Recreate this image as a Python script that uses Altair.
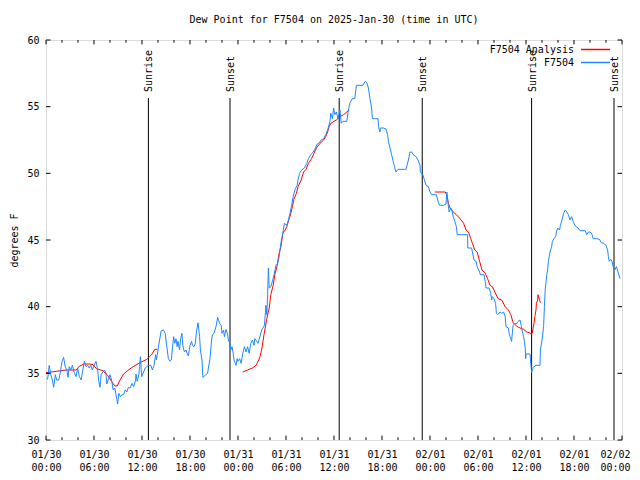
import json
import altair as alt
import pandas as pd

FONT = "DejaVu Sans Mono"

title_text = "Dew Point for F7504 on 2025-Jan-30 (time in UTC)"
day_labels = ["01/30", "01/31", "02/01", "02/02"]
x_major = [0, 6, 12, 18, 24, 30, 36, 42, 48, 54, 60, 66, 72]
x_minor = [2, 4, 8, 10, 14, 16, 20, 22, 26, 28, 32, 34, 38, 40, 44, 46, 50, 52, 56, 58, 62, 64, 68, 70]
y_ticks = [30, 35, 40, 45, 50, 55, 60]

# Observed dew point (hours since 2025-01-30 00:00 UTC, deg F)
blue_hours = [0.1, 0.2, 0.4, 0.6, 0.8, 0.96, 1.17, 1.33, 1.6, 1.8, 2.0, 2.2, 2.4, 2.6, 2.75, 2.9, 3.1, 3.3, 3.5, 3.75,
              3.96, 4.17, 4.4, 4.6, 4.8, 5.0, 5.2, 5.4, 5.6, 5.8, 6.0, 6.25, 6.46, 6.6, 6.75, 6.9, 7.1, 7.3, 7.5, 7.6,
              7.8, 8.0, 8.2, 8.4, 8.6, 8.75, 8.96, 9.1, 9.3, 9.5, 9.7, 9.9, 10.1, 10.3, 10.5, 10.75, 10.96, 11.2, 11.25, 11.4,
              11.6, 11.7, 11.8, 11.96, 12.2, 12.4, 12.6, 12.8, 13.1, 13.3, 13.5, 13.7, 13.8, 14.0, 14.2, 14.4, 14.7, 14.9, 15.1, 15.3,
              15.5, 15.67, 15.8, 15.96, 16.1, 16.25, 16.4, 16.5, 16.7, 16.8, 17.0, 17.1, 17.3, 17.5, 17.7, 17.8, 18.0, 18.2, 18.3, 18.5,
              18.67, 18.8, 19.0, 19.2, 19.3, 19.5, 19.6, 19.8, 20.0, 20.2, 20.3, 20.5, 20.7, 20.8, 21.0, 21.25, 21.46, 21.7, 21.9, 22.0,
              22.2, 22.3, 22.5, 22.67, 22.8, 23.0, 23.1, 23.25, 23.4, 23.5, 23.75, 23.9, 24.0, 24.2, 24.4, 24.6, 24.8, 25.0, 25.2, 25.4,
              25.6, 25.8, 26.0, 26.1, 26.5, 26.96, 27.3, 27.5, 27.6, 27.7, 27.8, 27.9, 28.1, 28.3, 28.5, 28.75, 28.96, 29.1, 29.4, 29.6,
              29.8, 30.1, 30.3, 30.5, 30.7, 30.9, 31.1, 31.4, 31.5, 31.7, 31.96, 32.3, 32.6, 32.8, 33.1, 33.4, 33.7, 33.9, 34.1, 34.4,
              34.7, 34.96, 35.2, 35.5, 35.6, 35.8, 35.96, 36.1, 36.3, 36.5, 36.6, 36.75, 36.9, 37.1, 37.4, 37.6, 37.8, 38.0, 38.3, 38.6,
              38.8, 39.25, 39.6, 39.9, 40.1, 40.3, 40.5, 40.7, 40.8, 41.1, 41.5, 41.6, 41.75, 41.8, 42.2, 42.5, 42.7, 42.8, 43.0, 43.2,
              43.4, 43.6, 43.75, 44.0, 44.5, 45.0, 45.3, 45.5, 45.7, 45.9, 46.25, 46.5, 46.75, 46.8, 47.1, 47.25, 47.5, 47.8, 48.0, 48.2,
              48.8, 49.0, 49.2, 49.7, 50.0, 50.1, 50.2, 50.3, 50.4, 50.6, 50.75, 50.9, 51.1, 51.3, 51.4, 51.96, 52.7, 52.72, 53.2, 53.5,
              53.75, 53.9, 54.2, 54.3, 54.75, 54.9, 55.0, 55.4, 55.6, 55.7, 55.8, 56.0, 56.2, 56.3, 56.5, 56.75, 56.96, 57.2, 57.4, 57.5,
              57.8, 57.9, 58.0, 58.2, 58.3, 58.4, 58.6, 58.8, 59.0, 59.25, 59.4, 59.5, 59.7, 59.8, 59.9, 59.96, 60.0, 60.5, 60.6, 60.7,
              60.9, 61.25, 61.75, 61.8, 62.0, 62.2, 62.3, 62.4, 62.6, 62.7, 62.8, 63.0, 63.2, 63.3, 63.5, 63.7, 63.8, 63.96, 64.2, 64.3,
              64.5, 64.7, 64.9, 65.1, 65.3, 65.5, 65.7, 65.9, 66.1, 66.3, 66.5, 66.75, 67.4, 67.6, 67.8, 68.0, 68.2, 68.4, 68.8, 69.2,
              69.4, 69.7, 70.0, 70.2, 70.3, 70.4, 70.6, 70.75, 70.9, 71.1, 71.3, 71.5, 71.75]
blue_dewpt = [34.6, 34.55, 35.6, 34.9, 34.5, 33.95, 34.9, 34.5, 34.5, 35.1, 35.9, 36.2, 35.5, 35.25, 34.7, 35.5, 35.25, 35.6, 35.1, 34.75,
              35.4, 34.75, 34.5, 35.25, 35.9, 35.5, 35.6, 35.4, 35.6, 35.25, 35.6, 35.9, 35.25, 34.4, 33.95, 34.9, 35.1, 35.25, 35.0, 34.2,
              34.55, 34.9, 34.5, 33.75, 33.9, 33.4, 32.7, 33.5, 33.25, 33.4, 33.4, 33.75, 33.6, 33.95, 33.9, 34.25, 34.0, 34.5, 34.95, 34.4,
              34.9, 35.5, 36.25, 34.75, 35.1, 35.4, 35.5, 35.6, 35.6, 35.25, 35.6, 36.4, 36.0, 36.75, 37.5, 38.2, 38.25, 38.0, 37.0, 36.1,
              35.9, 36.0, 36.9, 37.75, 37.25, 37.6, 37.0, 37.4, 36.75, 37.5, 38.0, 37.1, 36.6, 36.75, 36.4, 36.3, 37.1, 37.4, 37.1, 37.0,
              37.25, 38.1, 38.8, 37.75, 36.75, 36.0, 34.7, 34.8, 34.9, 35.0, 35.4, 36.1, 37.5, 37.9, 38.0, 38.5, 39.2, 38.75, 38.6, 38.0,
              38.25, 37.75, 38.3, 38.0, 37.5, 37.25, 36.75, 37.0, 36.5, 36.0, 35.6, 36.1, 35.9, 36.1, 35.75, 36.5, 37.0, 36.6, 37.0, 36.5,
              37.25, 37.5, 37.1, 37.6, 37.25, 38.25, 38.6, 40.1, 39.4, 40.9, 42.9, 41.4, 41.5, 41.9, 42.4, 43.1, 43.25, 43.6, 44.9, 45.5,
              46.25, 46.1, 46.5, 47.0, 47.6, 48.25, 48.75, 49.1, 49.5, 50.0, 50.25, 50.4, 50.75, 51.1, 51.4, 51.6, 51.9, 52.2, 52.25, 52.5,
              52.6, 52.9, 53.25, 53.9, 54.5, 54.1, 54.9, 54.4, 54.6, 54.1, 54.4, 54.75, 53.75, 53.9, 53.9, 53.9, 54.75, 55.3, 55.6, 55.6,
              56.6, 56.6, 56.6, 56.9, 56.8, 56.4, 55.6, 54.9, 54.1, 54.1, 54.1, 53.4, 53.1, 53.4, 53.4, 53.3, 52.9, 52.4, 51.9, 51.4,
              50.9, 50.4, 50.1, 50.3, 50.3, 50.3, 51.0, 51.6, 51.6, 51.4, 51.25, 51.0, 50.6, 50.1, 49.9, 49.6, 49.1, 49.0, 48.6, 48.4,
              48.4, 47.9, 47.6, 47.6, 47.7, 48.6, 48.1, 47.5, 47.1, 47.4, 47.25, 46.75, 46.4, 46.0, 45.4, 45.4, 45.4, 44.4, 44.4, 43.5,
              43.4, 43.0, 42.6, 42.4, 42.4, 41.9, 41.4, 41.4, 41.0, 40.5, 40.75, 40.6, 40.25, 39.5, 39.4, 39.6, 39.5, 39.6, 39.25, 38.5,
              38.4, 38.0, 37.75, 37.4, 38.1, 38.6, 38.75, 38.7, 38.9, 39.0, 38.6, 38.25, 37.75, 37.4, 36.9, 36.1, 36.45, 36.45, 35.75, 35.05,
              35.45, 35.6, 35.6, 36.75, 37.5, 38.5, 40.0, 41.25, 42.4, 42.75, 43.4, 44.1, 44.5, 44.9, 45.1, 45.25, 45.6, 45.9, 45.75, 46.1,
              46.5, 47.0, 47.25, 47.1, 46.9, 46.5, 46.75, 46.4, 46.1, 46.0, 45.9, 45.7, 45.7, 45.4, 45.6, 45.6, 45.5, 45.1, 45.1, 45.05,
              44.8, 44.75, 44.6, 44.25, 43.75, 43.4, 43.55, 43.4, 43.0, 42.75, 43.0, 42.6, 42.1]

# Analysis dew point, three separate runs
red_hours = [
    [0.0, 0.6, 1.25, 2.5, 3.75, 4.2, 4.8, 5.4, 5.9, 6.3, 7.1, 7.7, 8.2, 8.6, 8.9, 9.25, 9.7, 10.3, 10.9, 11.75,
     12.6, 13.2, 13.6, 13.9],
    [24.6, 25.2, 25.8, 26.25, 26.6, 26.75, 27.0, 27.25, 27.6, 27.9, 28.1, 28.4, 28.6, 28.9, 29.1, 29.4, 29.6, 29.9, 30.1, 30.4,
     30.6, 30.8, 31.0, 31.3, 31.5, 31.9, 32.2, 32.5, 32.8, 33.2, 33.5, 33.8, 34.25, 34.7, 34.96, 35.2, 35.4, 35.6, 36.0, 36.3,
     36.75, 37.2, 37.6, 37.9],
    [48.6, 49.9, 50.1, 50.3, 50.5, 50.9, 51.3, 51.75, 52.2, 52.5, 52.8, 53.1, 53.3, 53.6, 53.9, 54.2, 54.5, 54.9, 55.2, 55.5,
     55.8, 56.1, 56.5, 56.96, 57.4, 57.8, 58.1, 58.4, 58.8, 59.25, 59.7, 60.1, 60.4, 60.7, 60.8, 61.0, 61.1, 61.25, 61.3, 61.46,
     61.5, 61.7, 61.8],
]
red_dewpt = [
    [35.05, 35.1, 35.15, 35.25, 35.25, 35.55, 35.7, 35.7, 35.65, 35.35, 35.2, 34.85, 34.4, 34.05, 34.05, 34.5, 34.95, 35.25, 35.5, 35.8,
     36.05, 36.4, 36.8, 36.8],
    [35.1, 35.25, 35.4, 35.6, 36.0, 36.25, 36.9, 37.9, 39.1, 39.9, 40.9, 41.6, 42.4, 43.1, 43.9, 44.6, 45.5, 45.75, 46.0, 46.6,
     47.0, 47.5, 48.1, 48.5, 49.0, 49.5, 50.1, 50.3, 50.75, 51.1, 51.5, 51.9, 52.25, 52.5, 52.75, 53.1, 53.5, 53.75, 53.9, 54.0,
     54.25, 54.4, 54.6, 54.75],
    [48.6, 48.6, 48.4, 47.75, 47.4, 47.1, 46.9, 46.6, 46.25, 45.75, 45.6, 45.1, 44.75, 44.25, 44.1, 43.4, 42.75, 42.5, 42.1, 41.6,
     41.5, 41.1, 40.6, 40.5, 40.0, 39.75, 39.4, 38.8, 38.55, 38.4, 38.3, 38.1, 38.05, 37.9, 38.1, 38.75, 39.25, 39.75, 40.25, 40.5,
     40.9, 40.5, 40.3],
]

event_hours = [12.8, 23.0, 36.65, 47.03, 60.7, 71.0]
event_names = ["Sunrise", "Sunset", "Sunrise", "Sunset", "Sunrise", "Sunset"]

series_names = ["F7504 Analysis", "F7504"]
series_colors = ["#ff0000", "#1e88ff"]

blue_df = pd.DataFrame({"h": blue_hours, "v": blue_dewpt, "i": list(range(len(blue_hours)))})
red_rows = []
for s, (hs, vs) in enumerate(zip(red_hours, red_dewpt)):
    for k, (h, v) in enumerate(zip(hs, vs)):
        red_rows.append({"h": h, "v": v, "seg": s, "i": k})
red_df = pd.DataFrame(red_rows)
ev_df = pd.DataFrame({"h": event_hours, "name": event_names})
major_df = pd.DataFrame({"h": x_major})
minor_df = pd.DataFrame({"h": x_minor})
ytick_df = pd.DataFrame({"v": y_ticks})

xs = alt.Scale(domain=[0, 72], nice=False, zero=False)
ys = alt.Scale(domain=[30, 60], nice=False, zero=False)

label_expr = ("[" + json.dumps(day_labels).replace('"', "'") +
              "[floor(datum.value/24)], (datum.value % 24 < 10 ? '0' : '') + (datum.value % 24) + ':00']")

x_axis = alt.Axis(values=x_major, labelExpr=label_expr, ticks=False, grid=False, domain=False,
                  labelFont=FONT, labelFontSize=10, labelColor="black", labelPadding=9,
                  labelLineHeight=13, labelFlush=False, title=None,
                  labelOffset={"condition": {"test": "datum.value == 72", "value": -7}, "value": 0})
y_axis = alt.Axis(values=y_ticks, ticks=False, grid=False, domain=False, labelFont=FONT,
                  labelFontSize=10, labelColor="black", labelPadding=7, title="degrees F",
                  titleFont=FONT, titleFontSize=10, titleFontWeight="normal", titleColor="black",
                  titleX=-32, titleY=200, titleAngle=270, titleAlign="center", titleBaseline="middle")

blue = alt.Chart(blue_df).mark_line(color=series_colors[1], strokeWidth=1).encode(
    x=alt.X("h:Q", scale=xs, axis=x_axis),
    y=alt.Y("v:Q", scale=ys, axis=y_axis),
    order="i:Q",
)
red = alt.Chart(red_df).mark_line(color=series_colors[0], strokeWidth=1).encode(
    x=alt.X("h:Q", scale=xs, axis=x_axis), y=alt.Y("v:Q", scale=ys, axis=y_axis),
    detail="seg:N", order="i:Q",
)

ev_lines = alt.Chart(ev_df).mark_rule(color="black", strokeWidth=1).encode(
    x=alt.X("h:Q", scale=xs, axis=x_axis), y=alt.value(400), y2=alt.value(58),
)
ev_text = alt.Chart(ev_df).mark_text(angle=270, align="left", baseline="middle", font=FONT,
                                     fontSize=10, color="black", dy=1).encode(
    x=alt.X("h:Q", scale=xs, axis=x_axis), y=alt.value(52), text="name:N",
)

# inward ticks (gnuplot style), mirrored on all sides
tb_major = alt.Chart(major_df).mark_rule(color="black").encode(
    x=alt.X("h:Q", scale=xs, axis=x_axis), y=alt.datum(30), y2=alt.datum(30.33))
tb_major_top = alt.Chart(major_df).mark_rule(color="black").encode(
    x=alt.X("h:Q", scale=xs, axis=x_axis), y=alt.datum(60), y2=alt.datum(59.67))
tb_minor = alt.Chart(minor_df).mark_rule(color="black").encode(
    x=alt.X("h:Q", scale=xs, axis=x_axis), y=alt.datum(30), y2=alt.datum(30.2))
tb_minor_top = alt.Chart(minor_df).mark_rule(color="black").encode(
    x=alt.X("h:Q", scale=xs, axis=x_axis), y=alt.datum(60), y2=alt.datum(59.8))
yl = alt.Chart(ytick_df).mark_rule(color="black").encode(
    y=alt.Y("v:Q", scale=ys, axis=y_axis), x=alt.datum(0), x2=alt.datum(0.56))
yr = alt.Chart(ytick_df).mark_rule(color="black").encode(
    y=alt.Y("v:Q", scale=ys, axis=y_axis), x=alt.datum(72), x2=alt.datum(71.44))

legend_layers = []
for k, (name, col) in enumerate(zip(series_names, series_colors)):
    one = pd.DataFrame({"name": [name], "col": [col], "row": [k]})
    legend_layers.append(
        alt.Chart(one).mark_text(align="right", baseline="middle", font=FONT, fontSize=10,
                                 color="black").encode(
            x=alt.value(528), y=alt.value(10 + 12.7 * k), text="name:N"))
    legend_layers.append(
        alt.Chart(one).mark_rule(strokeWidth=1.5, stroke=col, color=col, opacity=1).encode(
            x=alt.value(535), x2=alt.value(564), y=alt.value(9.5 + 13 * k)))

chart = alt.layer(
    ev_lines, ev_text, red, blue, tb_major, tb_major_top, tb_minor, tb_minor_top, yl, yr, *legend_layers
).properties(
    width=576, height=400,
    title=alt.TitleParams(title_text, font=FONT, fontSize=10, fontWeight="normal", color="black",
                          anchor="middle", offset=10),
    autosize=alt.AutoSizeParams(type="none"),
    padding={"left": 38, "top": 32, "right": 10, "bottom": 40},
).configure_view(stroke="black", strokeWidth=1).configure_axis(grid=False).configure(background="white")

chart.save("out.html", embed_options={"renderer": "svg", "actions": False})
